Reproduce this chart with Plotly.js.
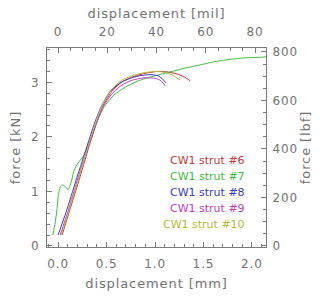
<!DOCTYPE html>
<html>
<head>
<meta charset="utf-8">
<script src="https://cdn.plot.ly/plotly-3.0.1.min.js"></script>
<style>
html,body{margin:0;padding:0;background:#fff;}
#chart{width:332px;height:298px;}
#chart .xtick text, #chart .ytick text, #chart .x2tick text, #chart .y2tick text,
#chart .xtitle, #chart .ytitle, #chart .x2title, #chart .y2title {letter-spacing:0.9px;}
</style>
</head>
<body>
<div id="chart"></div>
<script>
// displacement [mm] and force [kN]
var names = ['CW1 strut #6', 'CW1 strut #7', 'CW1 strut #8', 'CW1 strut #9', 'CW1 strut #10'];
var colors = ['#c0393b', '#3fba3f', '#3a3ac4', '#c03cc6', '#b8b83a'];

var x6 = [0.041, 0.124, 0.227, 0.330, 0.402, 0.474, 0.557, 0.660, 0.784, 0.907, 1.031, 1.134, 1.237, 1.320, 1.361];
var y6 = [0.20, 0.68, 1.27, 1.89, 2.28, 2.61, 2.84, 3.01, 3.11, 3.17, 3.20, 3.19, 3.15, 3.08, 3.03];

var x7 = [-0.055, -0.031, -0.013, 0.003, 0.021, 0.041, 0.072, 0.103, 0.134, 0.165, 0.206, 0.268, 0.330, 0.392, 0.474, 0.577, 0.711, 0.845, 1.000, 1.155, 1.309, 1.464, 1.619, 1.773, 1.928, 2.082, 2.144];
var y7 = [0.20, 0.42, 0.66, 0.94, 1.08, 1.12, 1.09, 1.03, 1.17, 1.39, 1.52, 1.67, 1.94, 2.24, 2.55, 2.77, 2.93, 3.04, 3.12, 3.19, 3.26, 3.32, 3.38, 3.42, 3.45, 3.46, 3.47];

var x8 = [0.000, 0.082, 0.186, 0.309, 0.381, 0.454, 0.536, 0.639, 0.753, 0.866, 0.969, 1.031, 1.072, 1.113];
var y8 = [0.20, 0.62, 1.21, 1.89, 2.28, 2.59, 2.83, 2.99, 3.08, 3.13, 3.14, 3.12, 3.07, 2.99];

var x9 = [0.021, 0.103, 0.206, 0.320, 0.392, 0.464, 0.546, 0.649, 0.763, 0.876, 0.969, 1.031, 1.072, 1.103];
var y9 = [0.20, 0.64, 1.25, 1.87, 2.24, 2.55, 2.77, 2.94, 3.04, 3.08, 3.08, 3.06, 3.01, 2.94];

var x10 = [0.031, 0.113, 0.216, 0.320, 0.392, 0.464, 0.546, 0.649, 0.773, 0.897, 1.010, 1.103, 1.175, 1.227, 1.258];
var y10 = [0.20, 0.66, 1.27, 1.89, 2.29, 2.62, 2.86, 3.03, 3.13, 3.18, 3.20, 3.18, 3.14, 3.08, 3.04];

var xs = [x6, x7, x8, x9, x10];
var ys = [y6, y7, y8, y9, y10];

var MM_TO_MIL = 39.3701, KN_TO_LBF = 224.809;
var xr = [-0.115, 2.145], yr = [-0.02, 3.63];

var FONT = 'DejaVu Sans, sans-serif';
var GREY = '#727272';
var AX = '#7a7a7a';

var traces = xs.map(function (x, i) {
  return {x: x, y: ys[i], type: 'scatter', mode: 'lines', name: names[i],
          line: {color: colors[i], width: 1, shape: 'spline', smoothing: 0.6},
          hoverinfo: 'skip', showlegend: false};
});
traces.push({x: [], y: [], xaxis: 'x2', yaxis: 'y2', type: 'scatter', mode: 'lines', showlegend: false});

function axis(extra) {
  var a = {showgrid: false, zeroline: false, showline: true, linecolor: AX, linewidth: 1,
           ticks: 'inside', ticklen: 5, tickcolor: AX, tickwidth: 1,
           tickfont: {family: FONT, size: 12, color: GREY}, fixedrange: true};
  for (var k in extra) a[k] = extra[k];
  return a;
}

var annotations = names.map(function (n, i) {
  return {xref: 'paper', yref: 'paper', x: 0.913, y: 0.437 - i * 0.0805, xanchor: 'right', yanchor: 'middle',
          text: n, showarrow: false, font: {family: FONT, size: 11, color: colors[i]}};
});

var layout = {
  width: 332, height: 298,
  margin: {l: 47, r: 66, t: 48, b: 51},
  paper_bgcolor: '#fff', plot_bgcolor: '#fff',
  font: {family: FONT, size: 12, color: GREY},
  showlegend: false,
  xaxis: axis({range: xr, tickmode: 'linear', tick0: 0, dtick: 0.5, tickformat: '.1f',
               minor: {dtick: 0.1, tick0: 0, ticklen: 3, ticks: 'inside', tickcolor: AX},
               ticklabelstandoff: 6,
               title: {text: 'displacement [mm]', font: {family: FONT, size: 13, color: GREY}, standoff: 8}}),
  xaxis2: axis({overlaying: 'x', side: 'top', anchor: 'y', range: [xr[0] * MM_TO_MIL, xr[1] * MM_TO_MIL],
                tickmode: 'linear', tick0: 0, dtick: 20,
                minor: {dtick: 5, tick0: 0, ticklen: 3, ticks: 'inside', tickcolor: AX},
                ticklabelstandoff: 6,
                title: {text: 'displacement [mil]', font: {family: FONT, size: 13, color: GREY}, standoff: 3}}),
  yaxis: axis({range: yr, tickmode: 'linear', tick0: 0, dtick: 1,
               minor: {dtick: 0.2, tick0: 0, ticklen: 3, ticks: 'inside', tickcolor: AX},
               ticklabelstandoff: 4,
               title: {text: 'force [kN]', font: {family: FONT, size: 13, color: GREY}, standoff: 8}}),
  yaxis2: axis({overlaying: 'y', side: 'right', anchor: 'x', range: [yr[0] * KN_TO_LBF, yr[1] * KN_TO_LBF],
                tickmode: 'linear', tick0: 0, dtick: 200,
                minor: {dtick: 50, tick0: 0, ticklen: 3, ticks: 'inside', tickcolor: AX},
                ticklabelstandoff: 3,
                title: {text: 'force [lbf]', font: {family: FONT, size: 13, color: GREY}, standoff: 6}}),
  annotations: annotations
};

Plotly.newPlot('chart', traces, layout, {staticPlot: true, displayModeBar: false});
</script>
</body>
</html>
